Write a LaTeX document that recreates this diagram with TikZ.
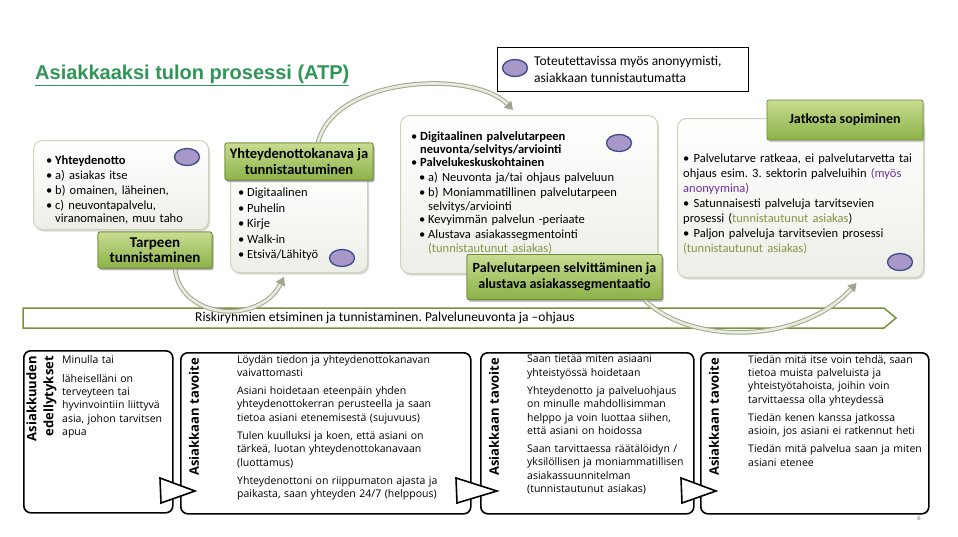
\documentclass[tikz,border=0pt]{standalone}
\usepackage{fontspec}
\setmainfont{Carlito}
\newfontfamily\arialfont{Liberation Sans}
\newfontfamily\panelfont{Open Sans}
\usetikzlibrary{shapes.geometric,shadows,arrows.meta}
\hyphenpenalty=10000
\exhyphenpenalty=10000
\frenchspacing

\definecolor{titlegreen}{RGB}{47,150,87}
\definecolor{labeltop}{RGB}{200,220,145}
\definecolor{labelbot}{RGB}{140,178,72}
\definecolor{labeledge}{RGB}{112,140,52}
\definecolor{cardedge}{RGB}{205,212,185}
\definecolor{cardbot}{RGB}{238,238,232}
\definecolor{anonfill}{RGB}{168,152,200}
\definecolor{anonedge}{RGB}{60,75,140}
\definecolor{bannerline}{RGB}{119,147,60}
\definecolor{arcline}{RGB}{160,166,140}
\definecolor{arcfill}{RGB}{232,236,220}
\definecolor{anonpurple}{RGB}{112,48,160}
\definecolor{idgreen}{RGB}{128,152,70}

% bullets
\newcommand\itm[1]{\par\noindent\makebox[9pt][l]{\textbullet}\parbox[t]{\dimexpr\hsize-9pt\relax}{#1}}
\newcommand\subitm[1]{\par\noindent\hspace*{8pt}\makebox[9pt][l]{\textbullet}\parbox[t]{\dimexpr\hsize-17pt\relax}{#1}}

\tikzset{
  card/.style={rounded corners=9pt, draw=cardedge, line width=1pt, top color=white, bottom color=cardbot,
    inner sep=0pt, anchor=north west, drop shadow={shadow xshift=1.5pt, shadow yshift=-2pt, opacity=.3}},
  phaselabel/.style={rounded corners=2pt, draw=labeledge, line width=.8pt, top color=labeltop, bottom color=labelbot,
    align=center, inner sep=0pt, drop shadow={shadow xshift=1.5pt, shadow yshift=-2pt, opacity=.4}},
  anon/.style={ellipse, draw=anonedge, fill=anonfill, line width=1.3pt, minimum width=25pt, minimum height=17pt, inner sep=0pt},
  cardtext/.style={anchor=north west, inner sep=0pt, align=left},
  flowarc/.style={draw=arcline, double=arcfill, double distance=2.6pt, line width=1pt, -{Triangle[length=8pt,width=10pt]}},
  panel/.style={rounded corners=7pt, draw=black, line width=1.6pt, fill=white, anchor=north west, inner sep=0pt},
  pointer/.style={draw=black, line width=1.6pt, fill=white, line join=miter},
  paneltitle/.style={rotate=90, anchor=east, inner sep=0pt,
    font=\panelfont\bfseries\fontsize{13}{17}\selectfont},
  paneltext/.style={anchor=north west, inner sep=0pt, align=left,
    font=\panelfont\fontsize{10.5}{13.4}\selectfont}
}

\begin{document}
\begin{tikzpicture}[x=1pt,y=-1pt]
\fill[white] (0,0) rectangle (958,536);
\useasboundingbox (0,0) rectangle (958,536);

% title and legend
\node[anchor=west, inner sep=0pt, text=titlegreen, font=\arialfont\bfseries\fontsize{20}{24}\selectfont] (title) at (35,75)
  {\underline{Asiakkaaksi tulon prosessi (ATP)}};
\node[draw, line width=.8pt, anchor=north west, minimum width=251pt, minimum height=44pt, inner sep=0pt] (legend) at (497,47) {};
\node[anon] (legendmark) at (515,68) {};
\node[anchor=west, align=left, inner sep=0pt, font=\fontsize{13.5}{17}\selectfont] (legendtext) at (534,69)
  {Toteutettavissa myös anonyymisti,\\asiakkaan tunnistautumatta};

% banner
\draw[bannerline, line width=1.5pt, fill=white] (23,308) -- (884,308) -- (896,318) -- (884,328) -- (23,328) -- cycle;
\node[font=\fontsize{13.5}{16}\selectfont, inner sep=0pt] (risk) at (385,318)
  {Riskiryhmien etsiminen ja tunnistaminen. Palveluneuvonta ja –ohjaus};

% cards
\node[card, minimum width=175pt, minimum height=89pt] (card1) at (33,140) {};
\node[card, minimum width=137pt, minimum height=100pt] (card2) at (230,172) {};
\node[card, minimum width=257pt, minimum height=158pt] (card3) at (400,115) {};
\node[card, minimum width=246pt, minimum height=159pt] (card4) at (677,118) {};

% labels
\node[phaselabel, minimum width=114pt, minimum height=36pt, font=\bfseries\fontsize{15}{15}\selectfont] (lab1) at (155,250)
  {Tarpeen\\tunnistaminen};
\node[phaselabel, minimum width=148pt, minimum height=37pt, font=\bfseries\fontsize{14.5}{16}\selectfont] (lab2) at (299,161.5)
  {Yhteydenottokanava ja\\tunnistautuminen};
\node[phaselabel, minimum width=195pt, minimum height=45pt, font=\bfseries\fontsize{14}{16.5}\selectfont] (lab3) at (564.5,277)
  {Palvelutarpeen selvittäminen ja\\alustava asiakassegmentaatio};
\node[phaselabel, minimum width=156pt, minimum height=40pt, font=\bfseries\fontsize{14}{16}\selectfont] (lab4) at (845,120)
  {Jatkosta sopiminen};

% arcs between the phases
\draw[flowarc] ([xshift=20pt]lab1.south) .. controls (180,320) and (260,325) .. ([xshift=-15pt,yshift=-4pt]card2.south);
\draw[flowarc] ([xshift=19pt]lab2.north) .. controls (335,75) and (475,70) .. ([xshift=-16pt,yshift=5pt]card3.north);
\draw[flowarc] ([xshift=80pt]lab3.south) .. controls (690,345) and (800,345) .. ([xshift=56pt,yshift=-5pt]card4.south);
\node[phaselabel, minimum width=114pt, minimum height=36pt, font=\bfseries\fontsize{15}{15}\selectfont] at (lab1) {Tarpeen\\tunnistaminen};
\node[phaselabel, minimum width=148pt, minimum height=37pt, font=\bfseries\fontsize{14.5}{16}\selectfont] at (lab2) {Yhteydenottokanava ja\\tunnistautuminen};
\node[phaselabel, minimum width=195pt, minimum height=45pt, font=\bfseries\fontsize{14}{16.5}\selectfont] at (lab3) {Palvelutarpeen selvittäminen ja\\alustava asiakassegmentaatio};

% card texts
\node[cardtext, text width=160pt, font=\fontsize{12.5}{13.5}\selectfont, execute at begin node={\setlength{\parskip}{1.5pt}}] (text1) at (46,149)
  {\itm{\textbf{Yhteydenotto}}\itm{a) asiakas itse}\itm{b) omainen, läheinen,}\itm{c) neuvontapalvelu,\\viranomainen, muu taho}};
\node[cardtext, text width=120pt, font=\fontsize{12.5}{13.5}\selectfont, execute at begin node={\setlength{\parskip}{2pt}}] (text2) at (238,181)
  {\itm{Digitaalinen}\itm{Puhelin}\itm{Kirje}\itm{Walk-in}\itm{Etsivä/Lähityö}};
\node[cardtext, text width=240pt, font=\fontsize{12.5}{13.5}\selectfont, execute at begin node={\setlength{\parskip}{1.5pt}}] (text3) at (411,125)
  {\itm{\textbf{Digitaalinen palvelutarpeen}\\\textbf{neuvonta/selvitys/arviointi}}
   \itm{\textbf{Palvelukeskuskohtainen}}
   \subitm{a) Neuvonta ja/tai ohjaus palveluun}
   \subitm{b) Moniammatillinen palvelutarpeen\\selvitys/arviointi}
   \subitm{Kevyimmän palvelun -periaate}
   \subitm{Alustava asiakassegmentointi\\{\color{idgreen}(tunnistautunut asiakas)}}};
\node[cardtext, text width=238pt, font=\fontsize{12.5}{15}\selectfont] (text4) at (683,154)
  {\textbullet\ Palvelutarve ratkeaa, ei palvelutarvetta tai\newline ohjaus esim. 3. sektorin palveluihin {\color{anonpurple}(myös\newline anonyymina)}
   \par\textbullet\ Satunnaisesti palveluja tarvitsevien\newline prosessi ({\color{idgreen}tunnistautunut asiakas})
   \par\textbullet\ Paljon palveluja tarvitsevien prosessi\newline{\color{idgreen}(tunnistautunut asiakas)}};

% anonymous marks
\foreach \pos [count=\i] in {(187,157),(342,258),(619,143),(900,262)}
  \node[anon] (anon\i) at \pos {};

% bottom panels
\node[panel, minimum width=149pt, minimum height=162pt] (need) at (23,350) {};
\node[panel, minimum width=290pt, minimum height=161pt] (goal1) at (180,352) {};
\node[panel, minimum width=213pt, minimum height=161pt] (goal2) at (480,352) {};
\node[panel, minimum width=228pt, minimum height=161pt] (goal3) at (700,352) {};
\draw[pointer] (160,478) -- (195,491) -- (161,503) -- cycle;
\draw[pointer] (456,478) -- (497,491) -- (457,503) -- cycle;
\draw[pointer] (681,478) -- (716,491) -- (682,503) -- cycle;

\node[paneltitle, align=right] (needtitle) at (41.5,356) {Asiakkuuden\\edellytykset};
\node[paneltitle] (goal1title) at (194,358) {Asiakkaan tavoite};
\node[paneltitle] (goal2title) at (494,358) {Asiakkaan tavoite};
\node[paneltitle] (goal3title) at (714,358) {Asiakkaan tavoite};

\node[paneltext, text width=108pt, execute at begin node={\setlength{\parskip}{5.5pt}}] (needtext) at (62,355)
  {Minulla tai\par läheiselläni on\newline terveyteen tai\newline hyvinvointiin liittyvä\newline asia, johon tarvitsen\newline apua};
\node[paneltext, text width=228pt, execute at begin node={\setlength{\parskip}{4.6pt}}] (goal1text) at (237,355)
  {Löydän tiedon ja yhteydenottokanavan\newline vaivattomasti
   \par Asiani hoidetaan eteenpäin yhden\newline yhteydenottokerran perusteella ja saan\newline tietoa asiani etenemisestä (sujuvuus)
   \par Tulen kuulluksi ja koen, että asiani on\newline tärkeä, luotan yhteydenottokanavaan\newline (luottamus)
   \par Yhteydenottoni on riippumaton ajasta ja\newline paikasta, saan yhteyden 24/7 (helppous)};
\node[paneltext, text width=163pt, execute at begin node={\setlength{\parskip}{4.6pt}}] (goal2text) at (527,355)
  {Saan tietää miten asiaani\newline yhteistyössä hoidetaan
   \par Yhteydenotto ja palveluohjaus\newline on minulle mahdollisimman\newline helppo ja voin luottaa siihen,\newline että asiani on hoidossa
   \par Saan tarvittaessa räätälöidyn /\newline yksilöllisen ja moniammatillisen\newline asiakassuunnitelman\newline (tunnistautunut asiakas)};
\node[paneltext, text width=176pt, execute at begin node={\setlength{\parskip}{4.6pt}}] (goal3text) at (748,355)
  {Tiedän mitä itse voin tehdä, saan\newline tietoa muista palveluista ja\newline yhteistyötahoista, joihin voin\newline tarvittaessa olla yhteydessä
   \par Tiedän kenen kanssa jatkossa\newline asioin, jos asiani ei ratkennut heti
   \par Tiedän mitä palvelua saan ja miten\newline asiani etenee};

\node[text=gray, font=\fontsize{7}{8}\selectfont, inner sep=0pt] (pagenum) at (919,518) {6};
\end{tikzpicture}
\end{document}
